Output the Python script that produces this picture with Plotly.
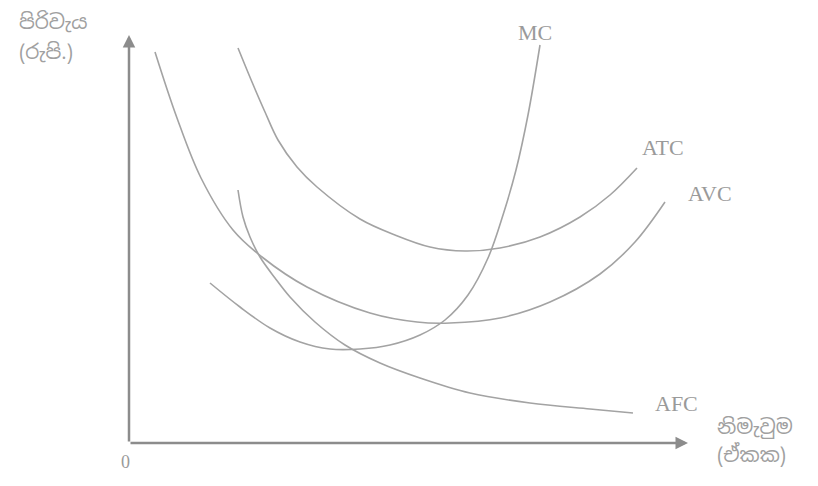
import plotly.graph_objects as go

# cost curves (output, cost)
mc_q = [81, 111, 141, 171, 201, 231, 261, 291, 316, 339, 359, 374, 387, 399, 411]
mc_c = [160, 136, 115, 101, 94, 94, 98, 108, 123, 148, 185, 228, 273, 328, 398]

atc_q = [109, 123, 136, 149, 168, 188, 231, 266, 301, 336, 371, 411, 451, 481, 508]
atc_c = [395, 361, 331, 303, 276, 256, 224, 208, 196, 192, 195, 206, 226, 248, 275]

avc_q = [26, 48, 72, 104, 133, 178, 241, 288, 321, 371, 421, 471, 506, 536]
avc_c = [391, 325, 265, 213, 186, 156, 130, 121, 120, 125, 141, 169, 201, 241]

afc_q = [109, 114, 121, 131, 146, 161, 186, 216, 251, 291, 341, 401, 461, 504]
afc_c = [253, 226, 206, 186, 165, 146, 121, 98, 80, 65, 50, 40, 34, 30]

curve_names = ["MC", "ATC", "AVC", "AFC"]
label_pos = {"MC": (406, 411), "ATC": (534, 296), "AVC": (581, 250), "AFC": (547, 40)}

y_title = ["පිරිවැය", "(රුපි.)"]
x_title = ["නිමැවුම", "(ඒකක)"]

line_col = "#a3a3a3"
axis_col = "#8c8c8c"
serif = "Liberation Serif, Times New Roman, serif"
sinhala = "Noto Sans Sinhala, Noto Sans, DejaVu Sans, sans-serif"

fig = go.Figure()
for q, c in [(mc_q, mc_c), (atc_q, atc_c), (avc_q, avc_c), (afc_q, afc_c)]:
    fig.add_trace(go.Scatter(x=q, y=c, mode="lines", line=dict(color=line_col, width=1.6, shape="spline", smoothing=1),
                             hoverinfo="skip", showlegend=False))

# axes with arrow heads
fig.add_annotation(x=0, y=408, ax=0, ay=0, xref="x", yref="y", axref="x", ayref="y", text="",
                   showarrow=True, arrowhead=2, arrowsize=1, arrowwidth=2.5, arrowcolor=axis_col)
fig.add_annotation(x=559, y=0, ax=0, ay=0, xref="x", yref="y", axref="x", ayref="y", text="",
                   showarrow=True, arrowhead=2, arrowsize=1, arrowwidth=2.5, arrowcolor=axis_col)

for name in curve_names:
    x, y = label_pos[name]
    fig.add_annotation(x=x, y=y, text=name, showarrow=False, font=dict(family=serif, size=22, color="#9a9a9a"))

fig.add_annotation(x=-4, y=-19, text="0", showarrow=False, font=dict(family=serif, size=18, color="#9a9a9a"))

title_font = dict(family=sinhala, size=20, color="#a0a0a0")
fig.add_annotation(x=-112, y=421, text=y_title[0], showarrow=False, xanchor="left", font=title_font)
fig.add_annotation(x=-112, y=391, text=y_title[1], showarrow=False, xanchor="left", font=title_font)
fig.add_annotation(x=586, y=16, text=x_title[0], showarrow=False, xanchor="left", font=title_font)
fig.add_annotation(x=586, y=-12, text=x_title[1], showarrow=False, xanchor="left", font=title_font)

# page body keeps an 8px margin, so the ranges are offset by that much
fig.update_xaxes(range=[-121, 697], visible=False)
fig.update_yaxes(range=[-51, 435], visible=False)
fig.update_layout(width=818, height=486, margin=dict(l=0, r=0, t=0, b=0),
                  plot_bgcolor="white", paper_bgcolor="white")

fig.write_html("out.html")
